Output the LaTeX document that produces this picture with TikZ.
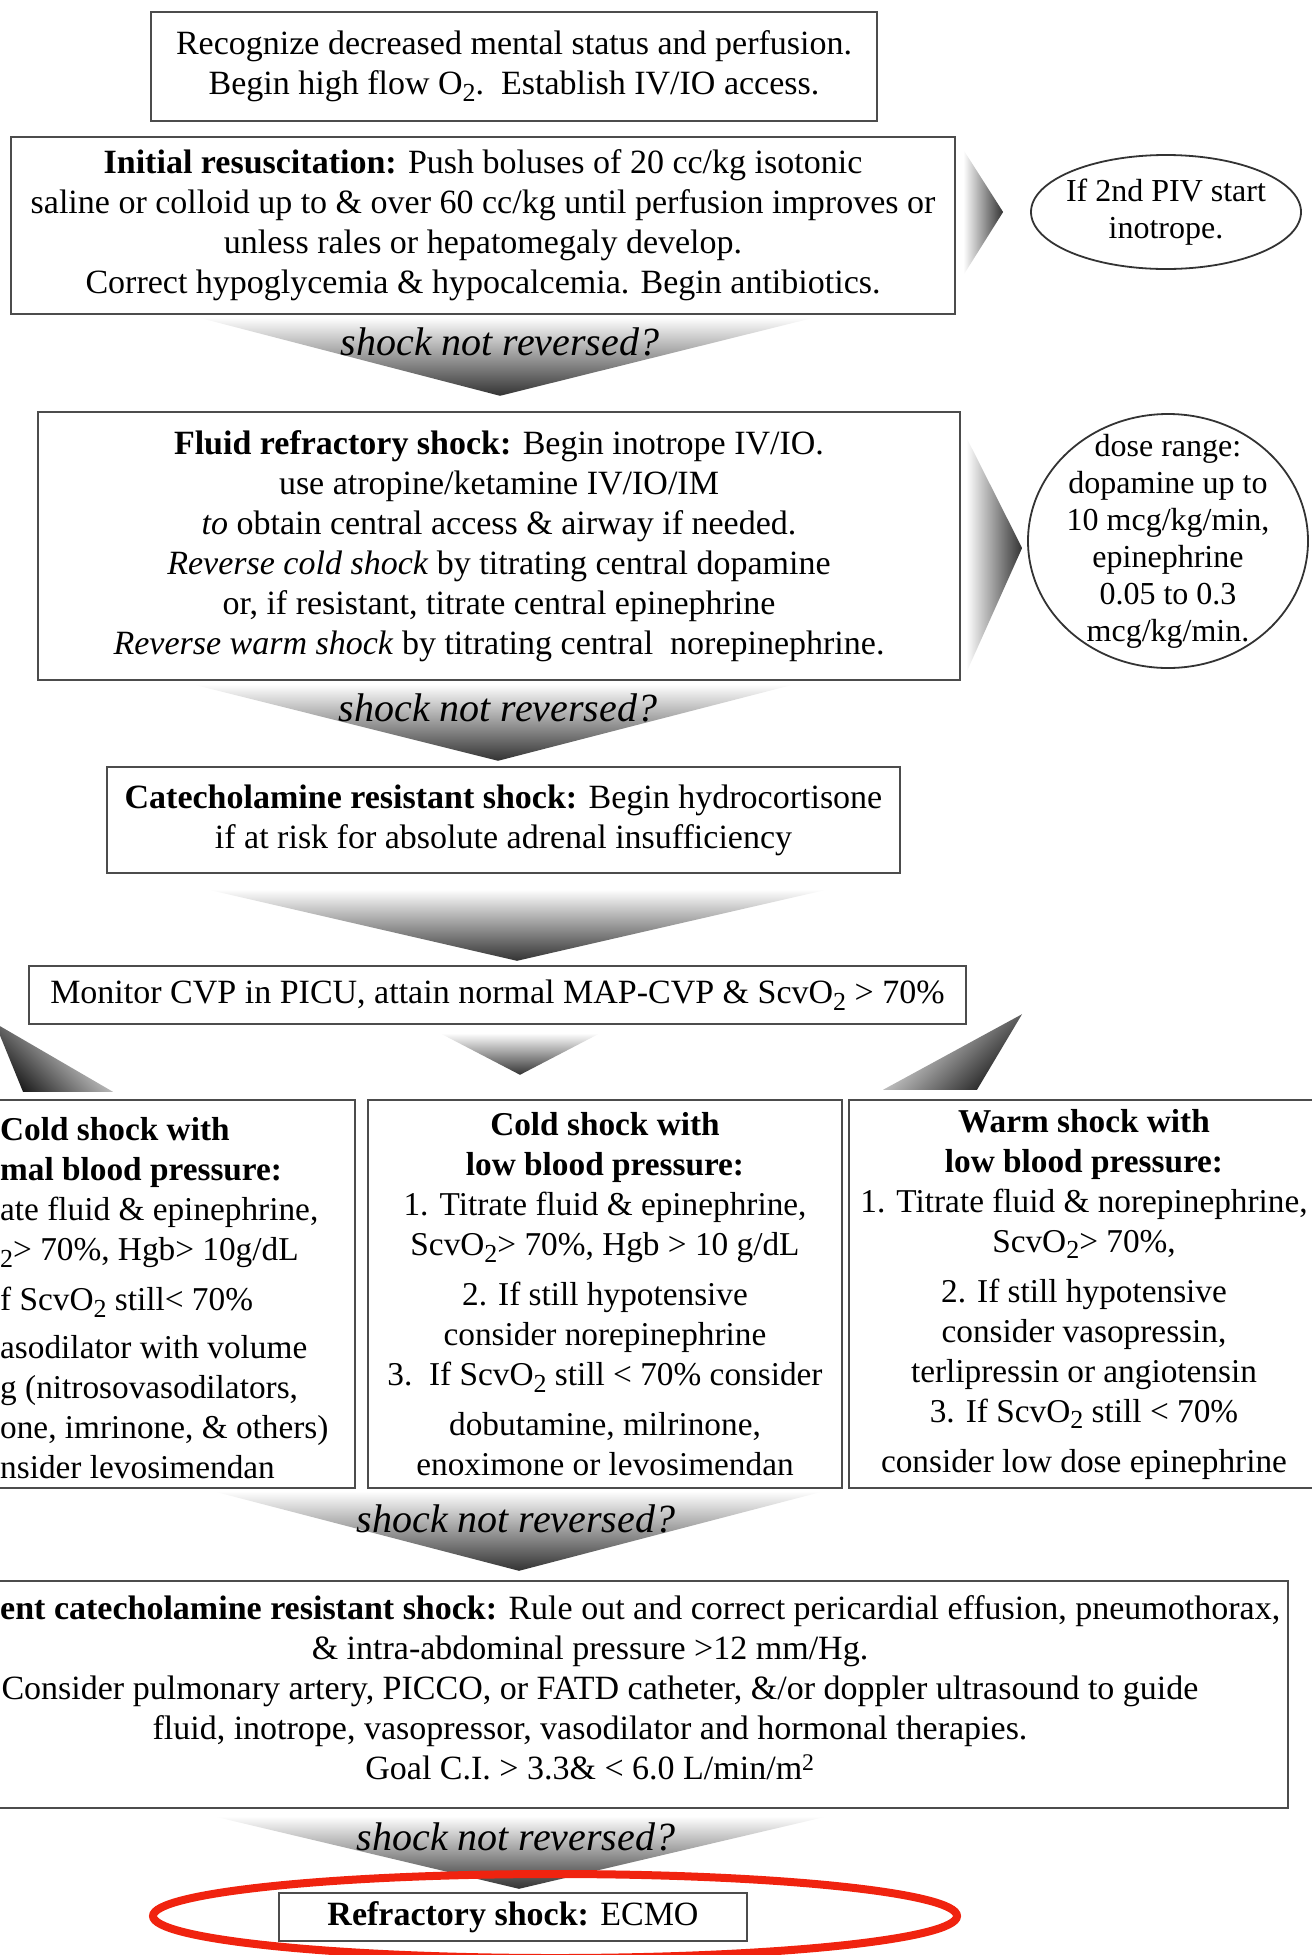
\documentclass[tikz,border=0pt]{standalone}
\usepackage{fontspec}
\setmainfont{Liberation Serif}
\usetikzlibrary{positioning,shapes.geometric,calc}
\definecolor{ringred}{RGB}{240,35,15}
\newcommand{\subsc}[1]{\raisebox{-0.45ex}{\fontsize{26}{26}\selectfont #1}}

\begin{document}
\begin{tikzpicture}[x=1pt, y=-1pt,
  font=\fontsize{34}{40}\selectfont,
  stepbox/.style={draw=black!70, line width=2.4pt, fill=white, rectangle, align=center, inner sep=0pt},
  branchfont/.style={font=\fontsize{33.3}{40}\selectfont},
  noteoval/.style={draw=black!80, line width=1.8pt, ellipse, align=center, inner xsep=-12pt, inner ysep=-30pt, font=\fontsize{32}{37}\selectfont},
  textonly/.style={inner sep=0pt},
  asklabel/.style={inner sep=0pt, font=\itshape\fontsize{40}{48}\selectfont},
  downshade/.style={top color=white, bottom color=black!80},
  sideshade/.style={left color=white, right color=black!80},
  ring/.style={draw=ringred, line width=8pt}]

  \useasboundingbox (0,0) rectangle (1312,1955);
  \clip (0,0) rectangle (1312,1955);

  % steps
  \node[stepbox, minimum width=726pt, minimum height=109pt] (recog) at (514,66.5)
    {Recognize decreased mental status and perfusion.\\ Begin high flow O\subsc{2}.\ \ Establish IV/IO access.};
  \node[stepbox, minimum width=944pt, minimum height=177pt] (initial) at (483,225.5)
    {\textbf{Initial resuscitation:} Push boluses of 20 cc/kg isotonic\\
     saline or colloid up to \& over 60 cc/kg until perfusion improves or\\
     unless rales or hepatomegaly develop.\\
     Correct hypoglycemia \& hypocalcemia. Begin antibiotics.};
  \node[noteoval, minimum width=270pt, minimum height=114pt] (piv) at (1166,212)
    {If 2nd PIV start\\ inotrope.};
  \node[stepbox, minimum width=922pt, minimum height=268pt] (fluid) at (499,546)
    {\textbf{Fluid refractory shock:} Begin inotrope IV/IO.\\
     use atropine/ketamine IV/IO/IM\\
     \textit{to} obtain central access \& airway if needed.\\
     \textit{Reverse cold shock} by titrating central dopamine\\
     or, if resistant, titrate central epinephrine\\
     \textit{Reverse warm shock} by titrating central\ \ norepinephrine.};
  \node[noteoval, minimum width=280pt, minimum height=254pt] (dose) at (1168,541)
    {dose range:\\ dopamine up to\\ 10 mcg/kg/min,\\ epinephrine\\ 0.05 to 0.3\\ mcg/kg/min.};
  \node[stepbox, minimum width=793pt, minimum height=106pt] (catechol) at (503.5,820)
    {\textbf{Catecholamine resistant shock:} Begin hydrocortisone\\
     if at risk for absolute adrenal insufficiency};
  \node[stepbox, minimum width=937pt, minimum height=58pt] (monitor) at (497.5,995)
    {Monitor CVP in PICU, attain normal MAP-CVP \& ScvO\subsc{2} > 70\%};

  % three branches
  \node[stepbox, minimum width=474pt, minimum height=388pt] (coldnormal) at (118,1294) {};
  \node[textonly, branchfont, align=left, anchor=west] (coldnormaltext) at ($(0,0 |- coldnormal)+(0,4)$)
    {\textbf{Cold shock with}\\
     \textbf{mal blood pressure:}\\
     ate fluid \& epinephrine,\\
     \subsc{2}> 70\%, Hgb> 10g/dL\\[10pt]
     f ScvO\subsc{2} still< 70\%\\[8pt]
     asodilator with volume\\
     g (nitrosovasodilators,\\
     one, imrinone, \& others)\\
     nsider levosimendan};
  \node[stepbox, branchfont, minimum width=474pt, minimum height=388pt] (coldlow) at (605,1294)
    {\textbf{Cold shock with}\\
     \textbf{low blood pressure:}\\
     1. Titrate fluid \& epinephrine,\\
     ScvO\subsc{2}> 70\%, Hgb > 10 g/dL\\[10pt]
     2. If still hypotensive\\
     consider norepinephrine\\
     3.\ \ If ScvO\subsc{2} still < 70\% consider\\[10pt]
     dobutamine, milrinone,\\
     enoximone or levosimendan};
  \node[stepbox, branchfont, minimum width=470pt, minimum height=388pt] (warmlow) at (1084,1294)
    {\textbf{Warm shock with}\\
     \textbf{low blood pressure:}\\
     1. Titrate fluid \& norepinephrine,\\
     ScvO\subsc{2}> 70\%,\\[10pt]
     2. If still hypotensive\\
     consider vasopressin,\\
     terlipressin or angiotensin\\
     3. If ScvO\subsc{2} still < 70\%\\[10pt]
     consider low dose epinephrine};

  \node[stepbox, minimum width=1396pt, minimum height=227pt] (persist) at (590,1694.5) {};
  \node[textonly, anchor=base west] (persisthead) at (0,1619)
    {\strut\textbf{ent catecholamine resistant shock:} Rule out and correct pericardial effusion, pneumothorax,};
  \node[textonly, align=center, anchor=north] (persistbody) at (590,0 |- persisthead.south)
    {\strut\& intra-abdominal pressure >12 mm/Hg.\\
     \hspace*{20pt}Consider pulmonary artery, PICCO, or FATD catheter, \&/or doppler ultrasound to guide\\
     fluid, inotrope, vasopressor, vasodilator and hormonal therapies.\\
     Goal C.I. > 3.3\& < 6.0 L/min/m\textsuperscript{2}};
  \node[stepbox, minimum width=468pt, minimum height=48pt] (ecmo) at (513,1917)
    {\textbf{Refractory shock:} ECMO};

  % shaded arrows
  \shade[sideshade] ($(initial.east)+(7,-76)$) -- ($(piv.west)+(-27,0)$) -- ($(initial.east)+(7,50)$) -- cycle;
  \shade[sideshade] ($(fluid.east)+(5,-109)$) -- ($(dose.west)+(-5,7)$) -- ($(fluid.east)+(5,127)$) -- cycle;
  \shade[downshade] ($(197,0 |- initial.south)+(0,2)$) -- ($(816,0 |- initial.south)+(0,2)$)
    -- ($(500,0 |- fluid.north)+(0,-15)$) -- cycle;
  \shade[downshade] ($(192,0 |- fluid.south)+(0,3)$) -- ($(795,0 |- fluid.south)+(0,3)$)
    -- ($(498,0 |- catechol.north)+(0,-5)$) -- cycle;
  \shade[downshade] ($(206,0 |- catechol.south)+(0,15)$) -- ($(829,0 |- catechol.south)+(0,15)$)
    -- ($(517,0 |- monitor.north)+(0,-4)$) -- cycle;
  \shade[downshade] ($(440,0 |- monitor.south)+(0,8)$) -- ($(600,0 |- monitor.south)+(0,8)$)
    -- ($(520,0 |- coldlow.north)+(0,-24)$) -- cycle;
  \begin{scope}[y=1pt]
    \shade[top color=white, bottom color=black!90, shading angle=-45]
      ($(-5,0 |- monitor.south)+(0,2)$) -- ($(23,0 |- coldnormal.north)+(0,7)$)
      -- ($(113,0 |- coldnormal.north)+(0,7)$) -- cycle;
    \shade[top color=white, bottom color=black!90, shading angle=45]
      ($(1022,0 |- monitor.south)+(0,11)$) -- ($(883,0 |- warmlow.north)+(0,9)$)
      -- ($(977,0 |- warmlow.north)+(0,9)$) -- cycle;
  \end{scope}
  \shade[downshade] ($(213,0 |- coldlow.south)+(0,2)$) -- ($(824,0 |- coldlow.south)+(0,2)$)
    -- ($(519,0 |- persist.north)+(0,-9)$) -- cycle;
  \shade[downshade] ($(213,0 |- persist.south)+(0,7)$) -- ($(828,0 |- persist.south)+(0,7)$)
    -- ($(519,0 |- ecmo.north)+(0,-3)$) -- cycle;

  \node[asklabel] (ask1) at (500,342) {shock not reversed?};
  \node[asklabel] (ask2) at (498,708) {shock not reversed?};
  \node[asklabel] (ask3) at (516,1519) {shock not reversed?};
  \node[asklabel] (ask4) at (516,1837) {shock not reversed?};

  % highlight
  \draw[ring] ($(ecmo.center)+(42,-1)$) ellipse [x radius=402pt, y radius=42pt];
\end{tikzpicture}
\end{document}
